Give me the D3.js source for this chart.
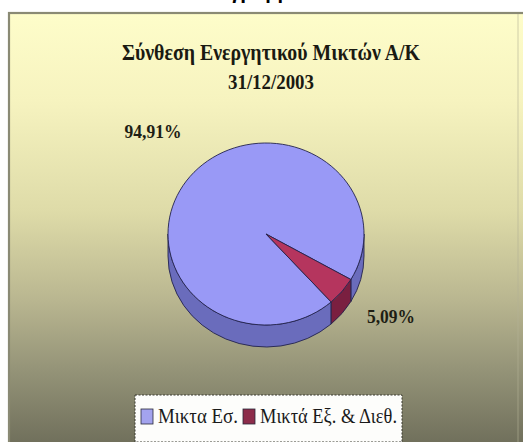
<!DOCTYPE html>
<html><head><meta charset="utf-8">
<script src="https://cdn.jsdelivr.net/npm/d3@7"></script>
<style>html,body{margin:0;padding:0;background:#fff;overflow:hidden} svg{display:block}</style>
</head><body>
<svg id="chart" width="523" height="442"></svg>
<script>
// Chart content
const pageHeading = "Διάγραμμα 1";
const titleLines = ["Σύνθεση Ενεργητικού Μικτών Α/Κ", "31/12/2003"];
const categories = ["Μικτα Εσ.", "Μικτά Εξ. & Διεθ."];
const values = [94.91, 5.09];
const valueLabels = ["94,91%", "5,09%"];

// Styling
const topColors = ["#9999f6", "#b5355e"];
const sideColors = ["#6a6cbc", "#7a1f40"];
const legendColors = ["#a3a3ee", "#8c2c4a"];

const svg = d3.select("#chart");
const W = 523, H = 442;

// Panel background gradient
const defs = svg.append("defs");
const grad = defs.append("linearGradient").attr("id", "bg").attr("x1", 0).attr("y1", 0).attr("x2", 0).attr("y2", 1);
[[0, "#fefdca"], [0.2, "#f6f3bf"], [0.45, "#dedba8"], [0.65, "#b9b690"], [0.8, "#969579"], [1, "#6a6a57"]]
  .forEach(([o, c]) => grad.append("stop").attr("offset", o).attr("stop-color", c));

// Heading above the panel (mostly cut off by the top edge)
svg.append("text").attr("x", 258).attr("y", -1).attr("text-anchor", "middle")
  .attr("font-family", "Liberation Sans, Arial, sans-serif").attr("font-weight", "bold")
  .attr("font-size", 20).attr("fill", "#000").text(pageHeading);

svg.append("rect").attr("x", 9).attr("y", 13).attr("width", W + 10).attr("height", H)
  .attr("fill", "url(#bg)").attr("stroke", "#8a8a74").attr("stroke-width", 2.2);
svg.append("line").attr("x1", 518).attr("x2", 518).attr("y1", 14).attr("y2", H)
  .attr("stroke", "#b4b296").attr("stroke-width", 1).attr("opacity", 0.6);

// Title
const serif = "Liberation Serif, Times New Roman, serif";
const titleSpec = [{y: 60, size: 23, len: 298}, {y: 89, size: 22, len: 86}];
titleLines.forEach((t, i) => {
  svg.append("text").attr("x", 271).attr("y", titleSpec[i].y).attr("text-anchor", "middle")
    .attr("font-family", serif).attr("font-weight", "bold").attr("font-size", titleSpec[i].size)
    .attr("fill", "#1a1a12")
    .attr("textLength", titleSpec[i].len).attr("lengthAdjust", "spacingAndGlyphs").text(t);
});

// 3D pie geometry
const cx = 266, cy = 234, rx = 98, ry = 91, depth = 22;
const total = d3.sum(values);
const secondStart = 2 * Math.PI / 3; // small slice begins at 4 o'clock
const start = secondStart + values[1] / total * 2 * Math.PI;
const pie = d3.pie().sort(null).value(d => d).startAngle(start).endAngle(start + 2 * Math.PI);
const arcs = pie(values);

const pt = (a, dy = 0) => [cx + rx * Math.sin(a), cy - ry * Math.cos(a) + dy];

// Outer walls on the front half of the ellipse
const sides = [];
arcs.forEach((d, i) => {
  for (let k = -1; k <= 2; k++) {
    const s0 = Math.max(d.startAngle, Math.PI / 2 + 2 * Math.PI * k);
    const s1 = Math.min(d.endAngle, 3 * Math.PI / 2 + 2 * Math.PI * k);
    if (s1 > s0) sides.push({i, s0, s1});
  }
});
svg.append("g").selectAll("path").data(sides).join("path")
  .attr("d", s => {
    const a = pt(s.s0), b = pt(s.s1), bb = pt(s.s1, depth), ab = pt(s.s0, depth);
    return `M${a}A${rx},${ry} 0 0 1 ${b}L${bb}A${rx},${ry} 0 0 0 ${ab}Z`;
  })
  .attr("fill", s => sideColors[s.i]).attr("stroke", "#23234d").attr("stroke-width", 0.9)
  .attr("stroke-linejoin", "round");

// Top faces
svg.append("g").selectAll("path").data(arcs).join("path")
  .attr("d", d => {
    const large = d.endAngle - d.startAngle > Math.PI ? 1 : 0;
    return `M${cx},${cy}L${pt(d.startAngle)}A${rx},${ry} 0 ${large} 1 ${pt(d.endAngle)}Z`;
  })
  .attr("fill", (d, i) => topColors[i]).attr("stroke", "#23234d").attr("stroke-width", 0.9)
  .attr("stroke-linejoin", "round");

// Value labels
const labelPos = [{x: 153, y: 138, len: 57}, {x: 391, y: 323, len: 48}];
valueLabels.forEach((t, i) => {
  svg.append("text").attr("x", labelPos[i].x).attr("y", labelPos[i].y).attr("text-anchor", "middle")
    .attr("font-family", serif).attr("font-weight", "bold").attr("font-size", 19).attr("fill", "#1e1e14")
    .attr("textLength", labelPos[i].len).attr("lengthAdjust", "spacingAndGlyphs").text(t);
});

// Legend
const lg = svg.append("g");
lg.append("rect").attr("x", 135).attr("y", 395).attr("width", 267).attr("height", 47)
  .attr("fill", "#fdfdfb").attr("stroke", "#3a3a30").attr("stroke-width", 1).attr("stroke-dasharray", "2,1.5");
const legendItems = [{sx: 141, tx: 158, len: 80}, {sx: 243, tx: 260, len: 137}];
categories.forEach((c, i) => {
  lg.append("rect").attr("x", legendItems[i].sx).attr("y", 409).attr("width", 12).attr("height", 15)
    .attr("fill", legendColors[i]).attr("stroke", "#2a2a3a").attr("stroke-width", 0.8);
  lg.append("text").attr("x", legendItems[i].tx).attr("y", 423)
    .attr("font-family", serif).attr("font-size", 20).attr("fill", "#1a1a1a")
    .attr("textLength", legendItems[i].len).attr("lengthAdjust", "spacingAndGlyphs").text(c);
});
</script>
</body></html>
